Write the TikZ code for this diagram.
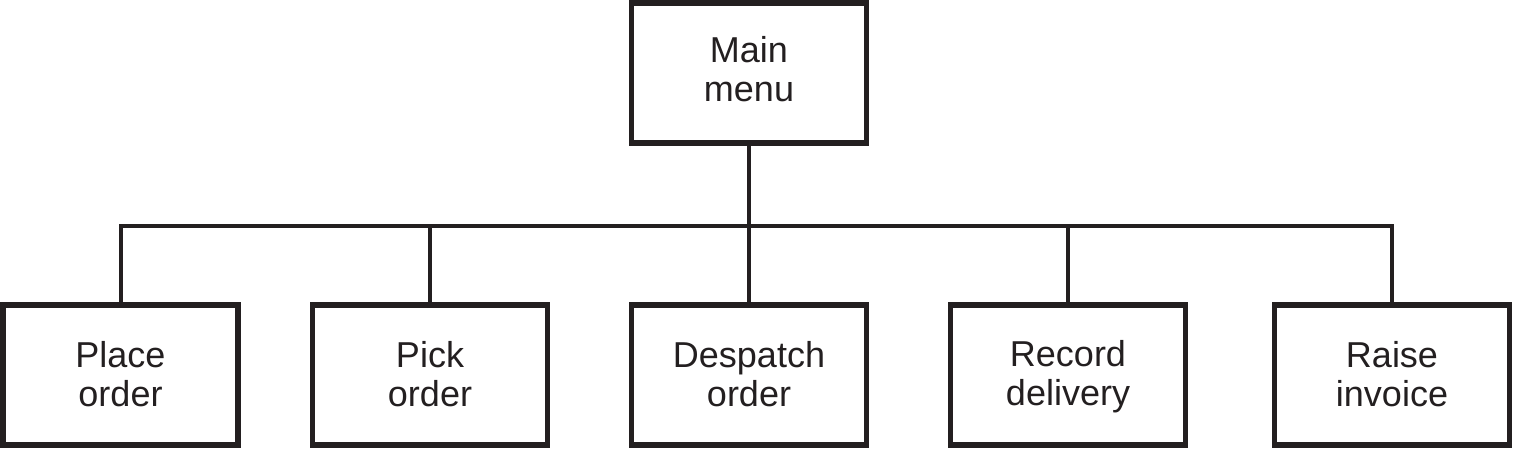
\documentclass[tikz,border=0pt]{standalone}
\usepackage{fontspec}
\setmainfont{Liberation Sans}
\definecolor{ink}{HTML}{231F20}
% #1 = height above first baseline, #2 = depth below last baseline
\newcommand{\twolines}[4]{\rule{0pt}{#1}#3\\#4\rule[-#2]{0pt}{#2}}
\begin{document}
\begin{tikzpicture}[x=1pt,y=-1pt,
  box/.style={draw=ink,line width=5.5pt,minimum width=235pt,minimum height=140pt,inner sep=0pt,align=center,text=ink,font=\fontsize{36}{39}\selectfont},
  link/.style={draw=ink,line width=4pt}]
\useasboundingbox (0,0) rectangle (1513,450);
\node[box] (main) at (749,73) {\twolines{27pt}{10pt}{Main}{menu}};
\node[box] (place) at (120.5,375) {\twolines{30pt}{7pt}{Place}{order}};
\node[box] (pick) at (430,375) {\twolines{30pt}{7pt}{Pick}{order}};
\node[box] (desp) at (749,375) {\twolines{30pt}{7pt}{Despatch}{order}};
\node[box] (rec) at (1068,375) {\twolines{30pt}{7pt}{Record}{delivery}};
\node[box] (raise) at (1392,375) {\twolines{30pt}{7pt}{Raise}{invoice}};
\coordinate (hub) at (749,226);
\draw[link] (main.south) -- (desp.north);
\draw[link] (place.north) |- (hub) -| (raise.north);
\draw[link] (pick.north) -- (pick.north |- hub);
\draw[link] (rec.north) -- (rec.north |- hub);
\end{tikzpicture}
\end{document}
